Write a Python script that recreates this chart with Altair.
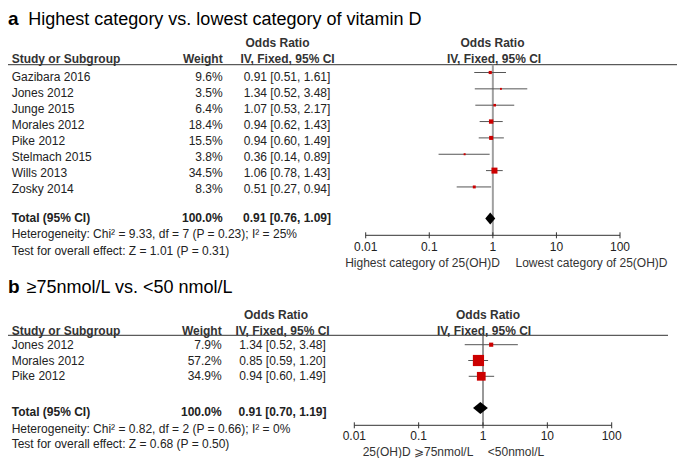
import altair as alt
import pandas as pd

# ---------------- data ----------------
studies_a = ["Gazibara 2016", "Jones 2012", "Junge 2015", "Morales 2012",
             "Pike 2012", "Stelmach 2015", "Wills 2013", "Zosky 2014"]
weights_a = [9.6, 3.5, 6.4, 18.4, 15.5, 3.8, 34.5, 8.3]
or_a = [0.91, 1.34, 1.07, 0.94, 0.94, 0.36, 1.06, 0.51]
lo_a = [0.51, 0.52, 0.53, 0.62, 0.60, 0.14, 0.78, 0.27]
hi_a = [1.61, 3.48, 2.17, 1.43, 1.49, 0.89, 1.43, 0.94]
total_a = [0.91, 0.76, 1.09]
notes_a = ["Heterogeneity: Chi\u00b2 = 9.33, df = 7 (P = 0.23); I\u00b2 = 25%",
           "Test for overall effect: Z = 1.01 (P = 0.31)"]
title_a = "Highest category vs. lowest category of vitamin D"
axis_labels_a = ["Highest category of 25(OH)D", "Lowest category of 25(OH)D"]

studies_b = ["Jones 2012", "Morales 2012", "Pike 2012"]
weights_b = [7.9, 57.2, 34.9]
or_b = [1.34, 0.85, 0.94]
lo_b = [0.52, 0.59, 0.60]
hi_b = [3.48, 1.20, 1.49]
total_b = [0.91, 0.70, 1.19]
notes_b = ["Heterogeneity: Chi\u00b2 = 0.82, df = 2 (P = 0.66); I\u00b2 = 0%",
           "Test for overall effect: Z = 0.68 (P = 0.50)"]
title_b = "\u226575nmol/L vs. <50 nmol/L"
axis_labels_b = ["25(OH)D \u2a7e75nmol/L", "<50nmol/L"]

tick_values = [0.01, 0.1, 1, 10, 100]
tick_labels = ["0.01", "0.1", "1", "10", "100"]

# ---------------- layout ----------------
W, H = 669, 450
FONT = "Liberation Sans"
TXT = "#222222"
RED = "#cc0000"


def px(X):
    return X - 8


def ya(Y):
    return Y - 2


def yb(Y):
    return Y - 16


yscale = alt.Scale(domain=[0, H], range=[0, H], nice=False, zero=False)
Y = alt.Y("y:Q", scale=yscale, axis=None)


def txt(texts, ys, x, align="left", bold=False, size=12, baseline="middle", color=TXT):
    df = pd.DataFrame({"t": texts, "y": ys})
    return alt.Chart(df).mark_text(
        align=align, baseline=baseline, font=FONT, fontSize=size,
        fontWeight="bold" if bold else "normal", color=color
    ).encode(x=alt.value(x), y=Y, text="t:N")


def fmt_ci(e, l, h):
    return f"{e:.2f} [{l:.2f}, {h:.2f}]"


def panel(letter, title, title_y, title_x, yf, studies, weights, ors, los, his, total,
          notes, axis_labels, axis_label_x, hdr1, hdr2, line_y, line_x2, row0, row_step,
          f_row0, f_step, total_y, note_ys, x0, x1, axis_y, tick_lab_y, axis_lab_y,
          diamond_y, diamond_h, vline_color, vline_w, size_max, or_cx, or_hdr_cx,
          or_hdr2_cx, weight_rx, right_hdr_cx, right_hdr2_cx):
    layers = []
    # title (title_y is already a chart coordinate for the baseline)
    layers.append(txt([letter], [title_y], 0, bold=True, size=19, baseline="alphabetic", color="#000"))
    layers.append(txt([title], [title_y], px(title_x), size=18, baseline="alphabetic", color="#000"))
    # headers
    layers.append(txt(["Odds Ratio"], [yf(hdr1)], px(or_hdr_cx), align="center", bold=True, color="#333"))
    layers.append(txt(["Odds Ratio"], [yf(hdr1)], px(right_hdr_cx), align="center", bold=True, color="#333"))
    layers.append(txt(["Study or Subgroup"], [yf(hdr2)], px(11.7), bold=True, color="#333"))
    layers.append(txt(["Weight"], [yf(hdr2)], px(weight_rx), align="right", bold=True, color="#333"))
    layers.append(txt(["IV, Fixed, 95% CI"], [yf(hdr2)], px(or_hdr2_cx), align="center", bold=True, color="#333"))
    layers.append(txt(["IV, Fixed, 95% CI"], [yf(hdr2)], px(right_hdr2_cx), align="center", bold=True, color="#333"))
    # header line
    layers.append(alt.Chart(pd.DataFrame({"y": [yf(line_y)]})).mark_rule(color="#333", strokeWidth=1).encode(
        x=alt.value(0), x2=alt.value(px(line_x2)), y=Y))
    # study rows
    n = len(studies)
    rows = [yf(row0 + row_step * i) for i in range(n)]
    layers.append(txt(studies, rows, px(11.7)))
    layers.append(txt([f"{w:.1f}%" for w in weights], rows, px(weight_rx), align="right"))
    layers.append(txt([fmt_ci(e, l, h) for e, l, h in zip(ors, los, his)], rows, px(or_cx), align="center"))
    # total rows
    layers.append(txt(["Total (95% CI)"], [yf(total_y)], px(11.7), bold=True))
    layers.append(txt([f"{sum(weights):.1f}%"], [yf(total_y)], px(weight_rx), align="right", bold=True))
    layers.append(txt([fmt_ci(*total)], [yf(total_y)], px(or_cx), align="center", bold=True))
    layers.append(txt(notes, [yf(v) for v in note_ys], px(11.7)))

    # forest plot
    xs = alt.Scale(type="log", domain=[0.01, 100], range=[px(x0), px(x1)], nice=False)
    frows = [yf(f_row0 + f_step * i) for i in range(n)]
    fdf = pd.DataFrame({"e": ors, "l": los, "h": his, "w": weights, "y": frows})
    # vertical line of no effect
    vdf = pd.DataFrame({"x": [1.0], "y": [yf(line_y)], "y2": [yf(axis_y)]})
    layers.append(alt.Chart(vdf).mark_rule(color=vline_color, strokeWidth=vline_w).encode(
        x=alt.X("x:Q", scale=xs, axis=None), y=Y, y2="y2:Q"))
    layers.append(alt.Chart(fdf).mark_rule(color="#555555", strokeWidth=1).encode(
        x=alt.X("l:Q", scale=xs, axis=None), x2="h:Q", y=Y))
    layers.append(alt.Chart(fdf).mark_point(shape="square", filled=True, color=RED, opacity=1, strokeWidth=0).encode(
        x=alt.X("e:Q", scale=xs, axis=None), y=Y,
        size=alt.Size("w:Q", scale=alt.Scale(domain=[0, max(weights)], range=[0, size_max]), legend=None)))
    # diamond
    dy = yf(diamond_y)
    ddf = pd.DataFrame({"x": [total[1], total[0], total[2]],
                        "y": [dy, dy - diamond_h / 2, dy],
                        "y2": [dy, dy + diamond_h / 2, dy]})
    layers.append(alt.Chart(ddf).mark_area(color="#000", orient="vertical", opacity=1).encode(
        x=alt.X("x:Q", scale=xs, axis=None), y=Y, y2="y2:Q"))
    # axis
    adf = pd.DataFrame({"x": [tick_values[0]], "x2": [tick_values[-1]], "y": [yf(axis_y)]})
    layers.append(alt.Chart(adf).mark_rule(color="#333", strokeWidth=1).encode(
        x=alt.X("x:Q", scale=xs, axis=None), x2="x2:Q", y=Y))
    tdf = pd.DataFrame({"x": tick_values, "lab": tick_labels,
                        "y": [yf(axis_y) - 3] * 5, "y2": [yf(axis_y) + 3] * 5,
                        "ly": [yf(tick_lab_y)] * 5})
    layers.append(alt.Chart(tdf).mark_rule(color="#333", strokeWidth=1).encode(
        x=alt.X("x:Q", scale=xs, axis=None), y=Y, y2="y2:Q"))
    layers.append(alt.Chart(tdf).mark_text(font=FONT, fontSize=12, color=TXT, baseline="middle", align="center").encode(
        x=alt.X("x:Q", scale=xs, axis=None), y=alt.Y("ly:Q", scale=yscale, axis=None), text="lab:N"))
    for lab, cx in zip(axis_labels, axis_label_x):
        layers.append(txt([lab], [yf(axis_lab_y)], px(cx), align="center", color="#333"))
    return layers


layers_a = panel(
    "a", title_a, 17, 28.3, ya, studies_a, weights_a, or_a, lo_a, hi_a, total_a,
    notes_a, axis_labels_a, [422.5, 591.5],
    hdr1=36.7, hdr2=53.3, line_y=58.7, line_x2=683, row0=70.7, row_step=16.0,
    f_row0=66.5, f_step=16.35, total_y=211.7, note_ys=[228.3, 245.0],
    x0=365.7, x1=620.0, axis_y=229.3, tick_lab_y=240.7, axis_lab_y=257.3,
    diamond_y=212.5, diamond_h=12, vline_color="#a0a0a0", vline_w=2, size_max=36,
    or_cx=287.0, or_hdr_cx=277.5, or_hdr2_cx=287.5, weight_rx=222.7,
    right_hdr_cx=492.5, right_hdr2_cx=494.0)

layers_b = panel(
    "b", title_b, yb(301), 26.7, yb, studies_b, weights_b, or_b, lo_b, hi_b, total_b,
    notes_b, axis_labels_b, [418.0, 516.0],
    hdr1=322.7, hdr2=339.3, line_y=343.3, line_x2=668, row0=352.7, row_step=15.8,
    f_row0=352.7, f_step=15.8, total_y=420.0, note_ys=[436.7, 452.0],
    x0=354.3, x1=611.7, axis_y=433.3, tick_lab_y=444.3, axis_lab_y=460.0,
    diamond_y=416.0, diamond_h=12, vline_color="#333333", vline_w=1, size_max=125,
    or_cx=282.5, or_hdr_cx=276.0, or_hdr2_cx=282.5, weight_rx=221.7,
    right_hdr_cx=488.0, right_hdr2_cx=484.0)

chart = alt.layer(*(layers_a + layers_b)).resolve_scale(
    x="independent", size="independent"
).properties(
    width=W, height=H, padding=0, autosize=alt.AutoSizeParams(type="none"),
    background="white"
).configure_view(stroke=None)

chart.save("out.html", embed_options={"renderer": "svg", "actions": False})
